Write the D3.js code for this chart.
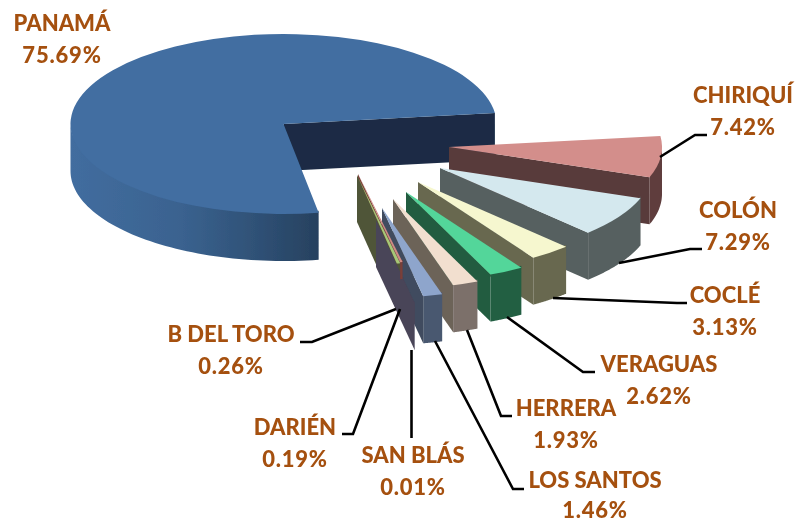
<!DOCTYPE html>
<html><head><meta charset="utf-8">
<script src="https://cdn.jsdelivr.net/npm/d3@7"></script>
<style>html,body{margin:0;background:#fff}svg{display:block}</style>
</head><body><div id="c"></div>
<script>
const categories=["PANAMÁ","CHIRIQUÍ","COLÓN","COCLÉ","VERAGUAS","HERRERA","LOS SANTOS","SAN BLÁS","DARIÉN","B DEL TORO"];
const values=[75.69,7.42,7.29,3.13,2.62,1.93,1.46,0.01,0.19,0.26];

// layout: apex of each exploded slice, small perspective adjustments
const apexes=[[283.5,124],[449,147],[440,168],[418,182],[406,192],[393,199],[382,208],[376,220],[358,174],[357,175]];
const radiusFactor=[1,1,1,1,1,1,1,0.94,1,1];
const angleNudge=[0,0,0,0,0,0,0,0,-0.96,-1.26];
const rimDepth=[47,47,47,47,47,47,47,47,17,47];
// styles
const topColors=["#426ea1","#d38e8b","#d4e8ee","#f6f7cf","#52d69a","#f2dfcf","#8ea5cc","#4a4458","#cf8a84","#a6c878"];
const innerColors=["#1b2c45","#593a3a","#566060","#68684f","#205c40","#6c6359","#3f4b5e","#4a4458","#7a3f38","#4f5439"];
const outerColors=["url(#panamaWall)","#5f3d3d","#566060","#68684f","#225f43","#7b706a","#4a5870","#4a4458","#7a3f38","#4f5439"];
// labels: centre x, first baseline, gap to second line; leaders
const labelPos=[[62,31,32],[743,103,32],[738,218,32],[725,303,32],[659,372,32],[566,416,32],[595,488,30],[413,463,32],[295,435,32],[231,342,32]];
const leaders=[null,[[660,157],[695,135],[707,135]],[[619,263],[690,249],[702,249]],[[553,298],[677,303],[687,303]],[[507,317],[583,372],[595,372]],[[467,330],[501,416],[512,416]],[[435,341],[513,489],[524,489]],[[411.5,350],[411.5,438]],[[400,309],[353,434],[342,434]],[[396,309],[312,342],[300,342]]];
const parts=[];
[0,1,2,3,4,5,6].forEach(i=>parts.push([i,"outer"],[i,"wall"],[i,"top"]));
parts.push([8,"wall"],[9,"outer"],[9,"wall"],[7,"outer"],[7,"wall"],[7,"top"],[9,"top"],[8,"outer"],[8,"top"]);

const W=798,H=523,rx=213,ry=90,depth=47,rad=Math.PI/180;
const svg=d3.select("#c").append("svg").attr("width",W).attr("height",H).attr("viewBox",[0,0,W,H]);
const defs=svg.append("defs");
const grad=defs.append("linearGradient").attr("id","panamaWall").attr("gradientUnits","userSpaceOnUse")
  .attr("x1",apexes[0][0]-rx).attr("x2",apexes[0][0]+35).attr("y1",0).attr("y2",0);
[[0,"#426d9f"],[0.45,"#3a628f"],[0.75,"#2f5176"],[1,"#27415f"]].forEach(([o,c])=>grad.append("stop").attr("offset",o).attr("stop-color",c));
defs.append("filter").attr("id","soft").attr("filterUnits","userSpaceOnUse")
  .attr("x",0).attr("y",0).attr("width",W).attr("height",H)
  .append("feGaussianBlur").attr("stdDeviation",0.45);

const pie=d3.pie().sort(null).value(d=>d).startAngle(170.5*rad).endAngle((170.5+360)*rad);
const arcs=pie(values);
const line=d3.line();
const arcGen=d3.arc().innerRadius(0);

function pt(i,theta){const f=radiusFactor[i],a=theta-Math.PI/2;
  return [apexes[i][0]+rx*f*Math.cos(a),apexes[i][1]+ry*f*Math.sin(a)];}
// the front half of the rim only: the part of the outer wall that faces the viewer
function frontRange(s,e){
  let best=null;
  [0,1].forEach(k=>{
    const lo=Math.max(s,(90+360*k)*rad),hi=Math.min(e,(270+360*k)*rad);
    if(hi>lo&&(!best||hi-lo>best[1]-best[0]))best=[lo,hi];
  });
  return best;
}

const g=svg.append("g").attr("filter","url(#soft)");
parts.forEach(([i,kind])=>{
  const n=angleNudge[i]*rad,s=arcs[i].startAngle+n,e=arcs[i].endAngle+n;
  const ap=apexes[i];
  if(kind==="outer"){
    const r=frontRange(s,e); if(!r)return;
    const topEdge=d3.range(0,61).map(k=>pt(i,r[0]+(r[1]-r[0])*k/60));
    // start the wall a little under the rim so no seam shows along the top face
    const upper=topEdge.map(p=>[p[0],p[1]-2]);
    const botEdge=topEdge.map(p=>[p[0],p[1]+rimDepth[i]]).reverse();
    g.append("path").attr("d",line(upper.concat(botEdge))+"Z").attr("fill",outerColors[i]);
  } else if(kind==="wall"){
    const tip=pt(i,e);
    g.append("path").attr("d",line([ap,tip,[tip[0],tip[1]+depth],[ap[0],ap[1]+depth]])+"Z").attr("fill",innerColors[i]);
  } else {
    g.append("path").attr("d",arcGen({startAngle:s,endAngle:e,outerRadius:rx*radiusFactor[i]}))
      .attr("transform",`translate(${ap[0]},${ap[1]}) scale(1,${ry/rx})`).attr("fill",topColors[i]);
  }
});

// leader lines
svg.append("g").selectAll("path").data(leaders.filter(Boolean)).join("path")
  .attr("d",d=>line(d)).attr("fill","none").attr("stroke","#000").attr("stroke-width",2.6);

// labels
const fmt=d3.format(".2f");
const lab=svg.append("g").attr("font-family","Lato, 'Open Sans', sans-serif").attr("font-weight",900).attr("font-size",22).attr("fill","#a5500f").attr("text-anchor","middle");
categories.forEach((c,i)=>{
  lab.append("text").attr("x",labelPos[i][0]).attr("y",labelPos[i][1]).text(c);
  lab.append("text").attr("x",labelPos[i][0]).attr("y",labelPos[i][1]+labelPos[i][2]).attr("letter-spacing",0.8).text(fmt(values[i])+"%");
});
</script></body></html>
